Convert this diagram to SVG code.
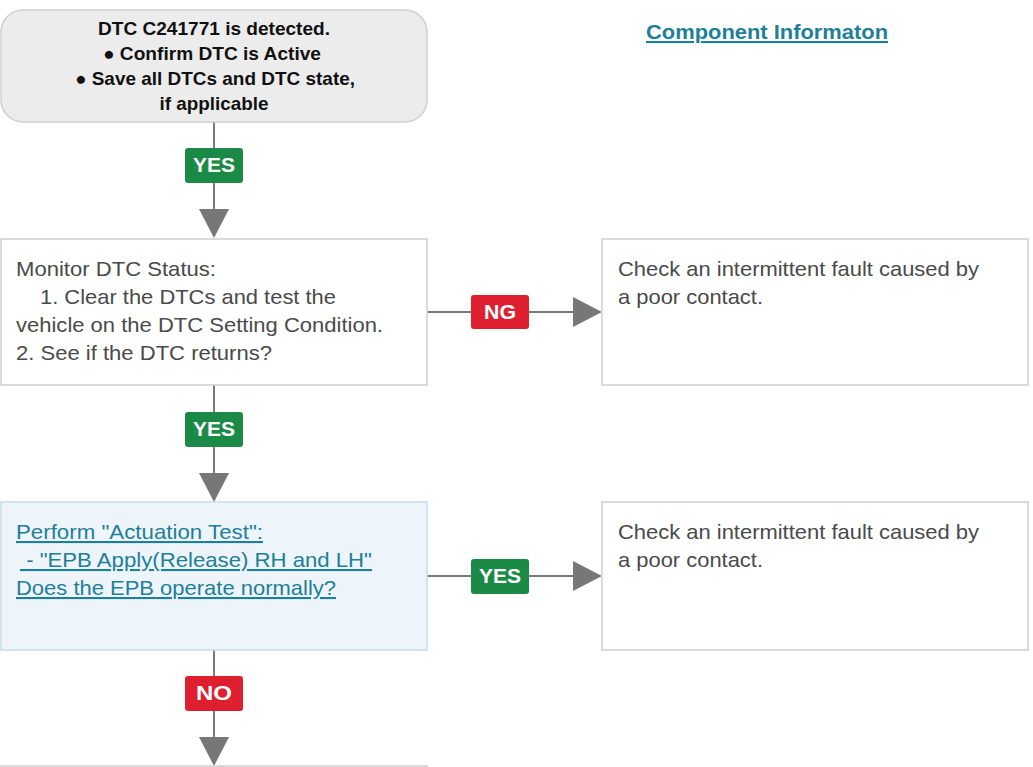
<svg xmlns="http://www.w3.org/2000/svg" width="1033" height="767" viewBox="0 0 1033 767">
<style>
.box{fill:#ffffff;stroke:#cfcfcf;stroke-width:1.5}
.t{font-family:"Liberation Sans",Arial,sans-serif;font-size:21px;fill:#4a4a4a}
.b{font-family:"Liberation Sans",Arial,sans-serif;font-size:18.5px;font-weight:bold;fill:#111}
.lnk{font-family:"Liberation Sans",Arial,sans-serif;font-size:21px;fill:#1d7f98;text-decoration:underline}
.lbl{font-family:"Liberation Sans",Arial,sans-serif;font-size:20px;font-weight:bold;fill:#fff;text-anchor:middle}
.ln{stroke:#7a7a7a;stroke-width:2;fill:none}
.ah{fill:#777}
.g{fill:#1b8a47}
.r{fill:#dd1f2f}
</style>
<rect width="1033" height="767" fill="#fff"/>
<g id="component-info">
<text x="767" y="39" text-anchor="middle" font-family="Liberation Sans, Arial, sans-serif" font-size="21" font-weight="bold" fill="#1d7f98" text-decoration="underline" textLength="242" lengthAdjust="spacingAndGlyphs">Component Informaton</text>
</g>
<g id="connectors">
<line class="ln" x1="214" y1="122" x2="214" y2="212"/>
<polygon class="ah" points="199,209 229,209 214,238"/>
<rect class="g" x="185" y="148" width="58" height="35" rx="3"/>
<text class="lbl" x="214" y="172" textLength="42" lengthAdjust="spacingAndGlyphs">YES</text>

<line class="ln" x1="427" y1="312" x2="576" y2="312"/>
<polygon class="ah" points="573,297 573,327 602,312"/>
<rect class="r" x="471" y="295" width="58" height="34" rx="3"/>
<text class="lbl" x="500" y="319" textLength="32" lengthAdjust="spacingAndGlyphs">NG</text>

<line class="ln" x1="214" y1="385" x2="214" y2="476"/>
<polygon class="ah" points="199,473 229,473 214,502"/>
<rect class="g" x="185" y="412" width="58" height="35" rx="3"/>
<text class="lbl" x="214" y="436" textLength="42" lengthAdjust="spacingAndGlyphs">YES</text>

<line class="ln" x1="427" y1="576" x2="576" y2="576"/>
<polygon class="ah" points="573,561 573,591 602,576"/>
<rect class="g" x="471" y="559" width="58" height="35" rx="3"/>
<text class="lbl" x="500" y="583" textLength="42" lengthAdjust="spacingAndGlyphs">YES</text>

<line class="ln" x1="214" y1="650" x2="214" y2="740"/>
<polygon class="ah" points="199,737 229,737 214,766"/>
<rect class="r" x="185" y="676" width="58" height="35" rx="3"/>
<text class="lbl" x="214" y="700" textLength="36" lengthAdjust="spacingAndGlyphs">NO</text>
</g>
<g id="start">
<rect x="1" y="10" width="426" height="112" rx="22" fill="#ececec" stroke="#cfcfcf" stroke-width="1.5"/>
<text class="b" text-anchor="middle" x="214" y="35" textLength="232" lengthAdjust="spacingAndGlyphs">DTC C241771 is detected.</text>
<text class="b" text-anchor="middle" x="212" y="60" textLength="218" lengthAdjust="spacingAndGlyphs">● Confirm DTC is Active</text>
<text class="b" text-anchor="middle" x="215" y="85" textLength="280" lengthAdjust="spacingAndGlyphs">● Save all DTCs and DTC state,</text>
<text class="b" text-anchor="middle" x="214" y="110" textLength="109" lengthAdjust="spacingAndGlyphs">if applicable</text>
</g>
<g id="monitor">
<rect class="box" x="1" y="239" width="426" height="146"/>
<text class="t" x="16" y="276" textLength="200" lengthAdjust="spacingAndGlyphs">Monitor DTC Status:</text>
<text class="t" x="40" y="304" textLength="296" lengthAdjust="spacingAndGlyphs">1. Clear the DTCs and test the</text>
<text class="t" x="16" y="332" textLength="367" lengthAdjust="spacingAndGlyphs">vehicle on the DTC Setting Condition.</text>
<text class="t" x="16" y="360" textLength="256" lengthAdjust="spacingAndGlyphs">2. See if the DTC returns?</text>
</g>
<g id="check1">
<rect class="box" x="602" y="239" width="426" height="146"/>
<text class="t" x="618" y="276" textLength="361" lengthAdjust="spacingAndGlyphs">Check an intermittent fault caused by</text>
<text class="t" x="618" y="304" textLength="145" lengthAdjust="spacingAndGlyphs">a poor contact.</text>
</g>
<g id="actuation">
<rect x="1" y="502" width="426" height="148" fill="#edf5fb" stroke="#c9dde8" stroke-width="1.5"/>
<text class="lnk" x="16" y="539" textLength="247" lengthAdjust="spacingAndGlyphs">Perform "Actuation Test":</text>
<text class="lnk" x="20" y="567" textLength="352" lengthAdjust="spacingAndGlyphs" xml:space="preserve"> - "EPB Apply(Release) RH and LH"</text>
<text class="lnk" x="16" y="595" textLength="320" lengthAdjust="spacingAndGlyphs">Does the EPB operate normally?</text>
</g>
<g id="check2">
<rect class="box" x="602" y="502" width="426" height="148"/>
<text class="t" x="618" y="539" textLength="361" lengthAdjust="spacingAndGlyphs">Check an intermittent fault caused by</text>
<text class="t" x="618" y="567" textLength="145" lengthAdjust="spacingAndGlyphs">a poor contact.</text>
</g>
<g id="next">
<rect class="box" x="1" y="766" width="426" height="40"/>
</g>
</svg>
